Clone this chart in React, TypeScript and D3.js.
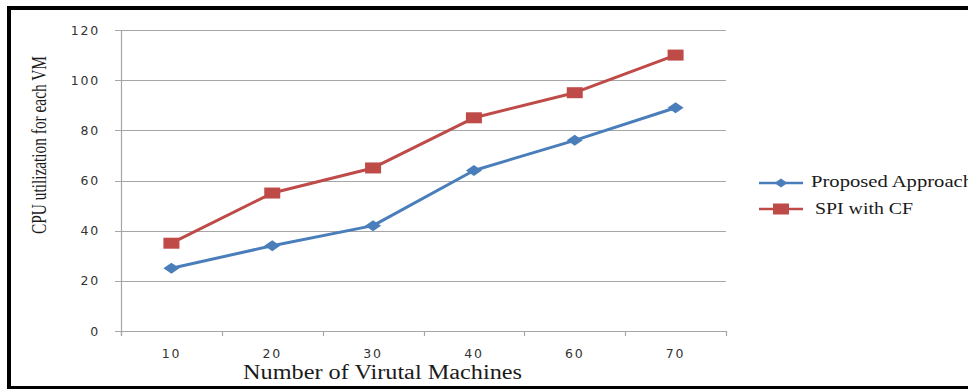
import React from "react";
import * as d3 from "d3";

// Number of virtual machines (categories on the x axis)
const vmCounts = ["10", "20", "30", "40", "60", "70"];
// CPU utilisation per VM for each approach
const proposedApproach = [25, 34, 42, 64, 76, 89];
const spiWithCF = [35, 55, 65, 85, 95, 110];
const yTicks = [0, 20, 40, 60, 80, 100, 120];

const seriesNames = ["Proposed Approach", "SPI with CF"];
const BLUE = "#4A7EBB";
const RED = "#BE4B48";
const GRID = "#a6a6a6";

const W = 968;
const H = 389;
const plot = { left: 121, right: 726, top: 30, bottom: 331 };

export default function App() {
  const x = d3
    .scaleBand<string>()
    .domain(vmCounts)
    .range([plot.left, plot.right])
    .paddingInner(0)
    .paddingOuter(0);
  const y = d3.scaleLinear().domain([0, 120]).range([plot.bottom, plot.top]);

  const cx = (c: string) => (x(c) as number) + x.bandwidth() / 2;
  const line = d3
    .line<number>()
    .x((_, i) => cx(vmCounts[i]))
    .y((d) => y(d));

  const boundaries = vmCounts.map((c) => x(c) as number).concat([plot.right]);

  const diamond = (px: number, py: number) =>
    `M${px - 8},${py} L${px},${py - 5.5} L${px + 8},${py} L${px},${py + 5.5} Z`;

  return (
    <svg
      width={W}
      height={H}
      style={{ position: "absolute", left: 0, top: 0, display: "block", background: "#fff" }}
    >
      {/* frame */}
      <rect x={0} y={0} width={W} height={H} fill="#fff" />
      <line x1={7} x2={W} y1={8} y2={8} stroke="#000" strokeWidth={4} />
      <line x1={9} x2={9} y1={6} y2={389} stroke="#000" strokeWidth={4} />
      <line x1={7} x2={W} y1={387.5} y2={387.5} stroke="#000" strokeWidth={3} />

      {/* horizontal gridlines and y ticks */}
      {yTicks.map((t) => (
        <g key={t}>
          <line
            x1={plot.left - 6}
            x2={plot.right}
            y1={Math.round(y(t)) + 0.5}
            y2={Math.round(y(t)) + 0.5}
            stroke={GRID}
            strokeWidth={1.2}
          />
          <text
            x={100}
            y={y(t) + 4.5}
            textAnchor="end"
            fontFamily="DejaVu Sans"
            fontSize={12.5}
            letterSpacing={1.8}
            fill="#333"
          >
            {t}
          </text>
        </g>
      ))}

      {/* y axis */}
      <line x1={plot.left + 0.5} x2={plot.left + 0.5} y1={plot.top} y2={plot.bottom + 5} stroke={GRID} strokeWidth={1.2} />

      {/* x axis ticks */}
      {boundaries.map((b, i) => (
        <line
          key={i}
          x1={Math.round(b) + 0.5}
          x2={Math.round(b) + 0.5}
          y1={plot.bottom}
          y2={plot.bottom + 5}
          stroke={GRID}
          strokeWidth={1.2}
        />
      ))}
      {vmCounts.map((c) => (
        <text
          key={c}
          x={cx(c)}
          y={358}
          textAnchor="middle"
          fontFamily="DejaVu Sans"
          fontSize={12.5}
          letterSpacing={1.8}
          fill="#333"
        >
          {c}
        </text>
      ))}

      {/* series lines */}
      <path d={line(proposedApproach) || ""} fill="none" stroke={BLUE} strokeWidth={3} strokeLinejoin="round" />
      <path d={line(spiWithCF) || ""} fill="none" stroke={RED} strokeWidth={3} strokeLinejoin="round" />

      {/* markers */}
      {proposedApproach.map((v, i) => (
        <path key={"p" + i} d={diamond(cx(vmCounts[i]), y(v))} fill={BLUE} />
      ))}
      {spiWithCF.map((v, i) => (
        <rect key={"s" + i} x={cx(vmCounts[i]) - 8} y={y(v) - 5.5} width={16} height={11} fill={RED} />
      ))}

      {/* axis titles */}
      <text
        transform="translate(46,145) rotate(-90)"
        textAnchor="middle"
        fontFamily="Liberation Serif"
        fontSize={21}
        textLength={178}
        lengthAdjust="spacingAndGlyphs"
        fill="#1a1a1a"
      >
        CPU utilization for each VM
      </text>
      <text
        x={243}
        y={379}
        fontFamily="Liberation Serif"
        fontSize={20}
        textLength={279}
        lengthAdjust="spacingAndGlyphs"
        fill="#1a1a1a"
      >
        Number of Virutal Machines
      </text>

      {/* legend */}
      <line x1={759} x2={803} y1={183} y2={183} stroke={BLUE} strokeWidth={2.5} />
      <path d={diamond(781, 183)} fill={BLUE} transform="translate(781,183) scale(0.8) translate(-781,-183)" />
      <text x={811} y={187} fontFamily="Liberation Serif" fontSize={17} fill="#1a1a1a" textLength={162} lengthAdjust="spacingAndGlyphs">
        {seriesNames[0]}
      </text>
      <line x1={759} x2={803} y1={209} y2={209} stroke={RED} strokeWidth={2.5} />
      <rect x={773} y={203.5} width={16} height={11} fill={RED} />
      <text x={815} y={214} fontFamily="Liberation Serif" fontSize={17} fill="#1a1a1a" textLength={98} lengthAdjust="spacingAndGlyphs">
        {seriesNames[1]}
      </text>
    </svg>
  );
}
